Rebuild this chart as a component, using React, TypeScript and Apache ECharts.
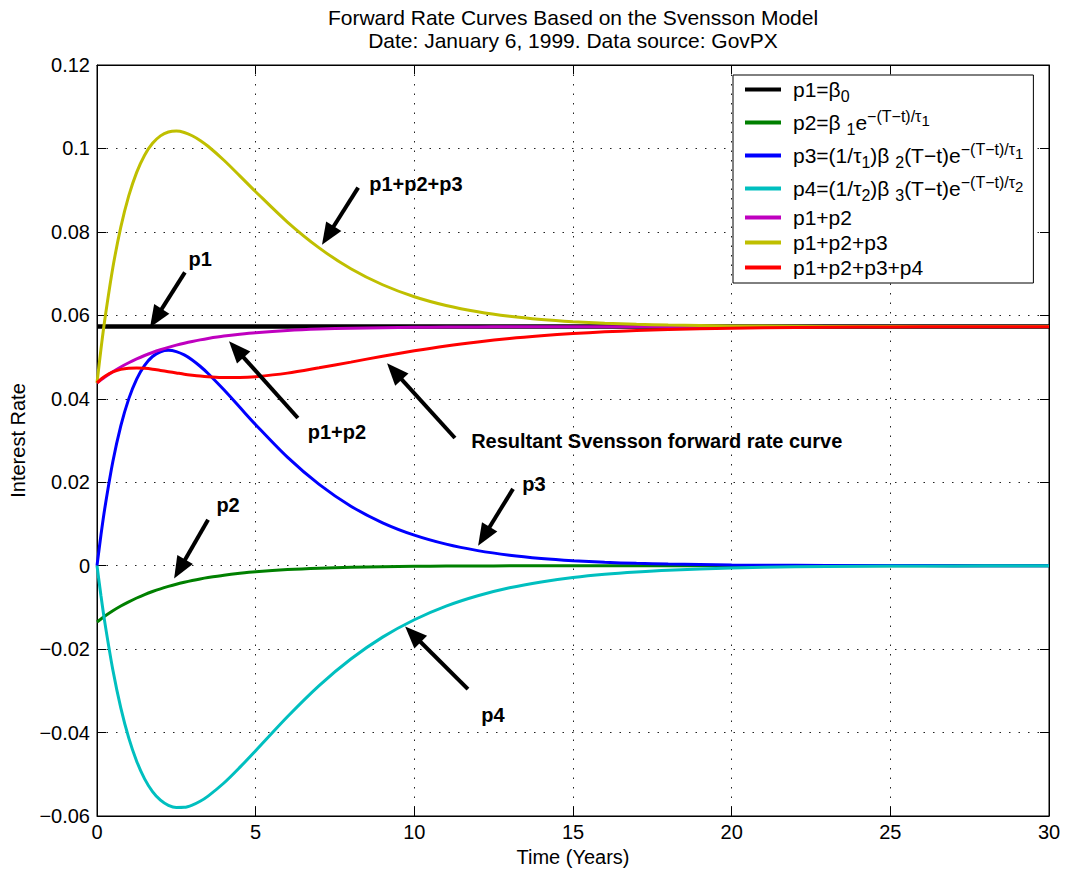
import React, { useEffect, useRef } from 'react';
import * as echarts from 'echarts';

// Time to maturity (years)
const T = [0, 0.125, 0.25, 0.5, 0.75, 1, 1.25, 1.5, 1.75, 2, 2.25, 2.5, 2.75, 3, 3.25, 3.5, 4, 4.5, 5, 6, 7, 8, 9, 10, 11, 12, 13, 14, 15, 16, 17, 18, 20, 22, 24, 26, 28, 30];

// p1 = beta0
const P1 = [0.0573, 0.0573, 0.0573, 0.0573, 0.0573, 0.0573, 0.0573, 0.0573, 0.0573, 0.0573, 0.0573, 0.0573, 0.0573, 0.0573, 0.0573, 0.0573, 0.0573, 0.0573, 0.0573, 0.0573, 0.0573, 0.0573, 0.0573, 0.0573, 0.0573, 0.0573, 0.0573, 0.0573, 0.0573, 0.0573, 0.0573, 0.0573, 0.0573, 0.0573, 0.0573, 0.0573, 0.0573, 0.0573];
// p2
const P2 = [-0.0135, -0.01277, -0.01208, -0.01081, -0.00967, -0.00866, -0.00775, -0.00693, -0.0062, -0.00555, -0.00497, -0.00444, -0.00398, -0.00356, -0.00318, -0.00285, -0.00228, -0.00183, -0.00146, -0.00094, -0.0006, -0.00039, -0.00025, -0.00016, -0.0001, -0.00007, -0.00004, -0.00003, -0.00002, -0.00001, -0.00001, 0, 0, 0, 0, 0, 0, 0];
// p3
const P3 = [0, 0.00737, 0.01395, 0.02496, 0.0335, 0.03998, 0.04472, 0.04802, 0.05013, 0.05126, 0.05161, 0.05131, 0.05051, 0.04931, 0.0478, 0.04607, 0.04215, 0.03796, 0.03379, 0.026, 0.01947, 0.01425, 0.01028, 0.00732, 0.00516, 0.00361, 0.0025, 0.00173, 0.00119, 0.00081, 0.00055, 0.00038, 0.00017, 0.00008, 0.00003, 0.00001, 0, 0];
// p4
const P4 = [0, -0.00722, -0.01377, -0.02502, -0.03409, -0.04128, -0.04687, -0.05109, -0.05414, -0.05621, -0.05744, -0.05797, -0.05793, -0.05739, -0.05647, -0.05523, -0.05209, -0.04834, -0.04434, -0.03621, -0.02874, -0.02237, -0.01713, -0.01296, -0.0097, -0.00721, -0.00531, -0.0039, -0.00284, -0.00206, -0.0015, -0.00108, -0.00055, -0.00028, -0.00014, -0.00007, -0.00004, -0.00002];
// p1+p2
const P12 = [0.0438, 0.04453, 0.04522, 0.04649, 0.04763, 0.04864, 0.04955, 0.05037, 0.0511, 0.05175, 0.05233, 0.05286, 0.05332, 0.05374, 0.05412, 0.05445, 0.05502, 0.05547, 0.05584, 0.05636, 0.0567, 0.05691, 0.05705, 0.05714, 0.0572, 0.05723, 0.05726, 0.05727, 0.05728, 0.05729, 0.05729, 0.0573, 0.0573, 0.0573, 0.0573, 0.0573, 0.0573, 0.0573];
// p1+p2+p3
const P123 = [0.0438, 0.0519, 0.05917, 0.07145, 0.08113, 0.08862, 0.09427, 0.09839, 0.10123, 0.10301, 0.10394, 0.10417, 0.10383, 0.10305, 0.10192, 0.10052, 0.09717, 0.09343, 0.08963, 0.08236, 0.07617, 0.07116, 0.06733, 0.06446, 0.06236, 0.06084, 0.05976, 0.059, 0.05847, 0.0581, 0.05784, 0.05768, 0.05747, 0.05738, 0.05733, 0.05731, 0.0573, 0.0573];
// p1+p2+p3+p4
const P1234 = [0.0438, 0.04468, 0.0454, 0.04643, 0.04704, 0.04734, 0.0474, 0.0473, 0.04709, 0.0468, 0.0465, 0.0462, 0.0459, 0.04566, 0.04545, 0.04529, 0.04508, 0.04509, 0.04529, 0.04615, 0.04743, 0.04879, 0.0502, 0.0515, 0.05266, 0.05363, 0.05445, 0.0551, 0.05563, 0.05604, 0.05634, 0.0566, 0.05692, 0.0571, 0.05719, 0.05724, 0.05726, 0.05728];

const SERIES_NAMES = ['p1', 'p2', 'p3', 'p4', 'p1+p2', 'p1+p2+p3', 'p1+p2+p3+p4'];
const SERIES_DATA = [P1, P2, P3, P4, P12, P123, P1234];
const SERIES_COLORS = ['#000000', '#008000', '#0000ff', '#00bfbf', '#bf00bf', '#bfbf00', '#ff0000'];
const SERIES_WIDTHS = [4.5, 3, 3, 3, 3, 3, 3];

const LEGEND_TEXT: Record<string, string> = {
  'p1': '{l|p1=β}{sub|0}',
  'p2': '{l|p2=β }{sub|1}{n|e}{sup|−(T−t)/τ}{supsub|1}',
  'p3': '{l|p3=(1/τ}{sub|1}{n|)β }{sub|2}{n|(T−t)e}{sup|−(T−t)/τ}{supsub|1}',
  'p4': '{l|p4=(1/τ}{sub|2}{n|)β }{sub|3}{n|(T−t)e}{sup|−(T−t)/τ}{supsub|2}',
  'p1+p2': '{l|p1+p2}',
  'p1+p2+p3': '{l|p1+p2+p3}',
  'p1+p2+p3+p4': '{l|p1+p2+p3+p4}',
};

const X_TICKS = { min: 0, max: 30, interval: 5 };
const Y_TICKS = { min: -0.06, max: 0.12, interval: 0.02 };

// annotation arrows, anchored in data coordinates
const ARROWS = [
  { tail: [2.77, 0.0703], tip: [1.67, 0.0571] },
  { tail: [8.23, 0.0906], tip: [7.09, 0.0769] },
  { tail: [6.33, 0.0354], tip: [4.16, 0.0538] },
  { tail: [11.28, 0.0306], tip: [9.14, 0.0485] },
  { tail: [13.11, 0.0184], tip: [12.01, 0.0048] },
  { tail: [3.5, 0.011], tip: [2.43, -0.0031] },
  { tail: [11.69, -0.0296], tip: [9.71, -0.0146] },
];
const LABELS = [
  { text: 'p1', at: [3.25, 0.0736], align: 'center' },
  { text: 'p1+p2+p3', at: [10.05, 0.0915], align: 'center' },
  { text: 'p1+p2', at: [7.56, 0.032], align: 'center' },
  { text: 'Resultant Svensson forward rate curve', at: [11.79, 0.0299], align: 'left' },
  { text: 'p3', at: [13.77, 0.0196], align: 'center' },
  { text: 'p2', at: [4.13, 0.0146], align: 'center' },
  { text: 'p4', at: [12.48, -0.0358], align: 'center' },
];

const FONT = 'Liberation Sans, Arial, Helvetica, sans-serif';

function fmtY(v: number) {
  if (Math.abs(v) < 1e-9) return '0';
  const s = String(parseFloat(Math.abs(v).toFixed(2)));
  return (v < 0 ? '−' : '') + s;
}

export default function App() {
  const ref = useRef<HTMLDivElement>(null);
  useEffect(() => {
    if (!ref.current) return;
    const chart = echarts.init(ref.current, undefined, { renderer: 'svg' });
    const baseAxisLine = { show: true, onZero: false, lineStyle: { color: '#000', width: 1 } };
    const option: any = {
      animation: false,
      backgroundColor: '#fff',
      title: {
        text: 'Forward Rate Curves Based on the Svensson Model\nDate: January 6, 1999. Data source: GovPX',
        left: 573,
        top: 6,
        padding: 0,
        textAlign: 'center',
        textStyle: { fontFamily: FONT, fontSize: 21, fontWeight: 'normal', color: '#000', lineHeight: 23 },
      },
      grid: { left: 97, top: 65, right: 17, bottom: 57, show: true, borderColor: '#000', borderWidth: 1, containLabel: false },
      legend: {
        orient: 'vertical',
        left: 733,
        top: 75,
        padding: [4, 10, 5, 12],
        itemGap: 4,
        itemWidth: 36,
        itemHeight: 4,
        icon: 'rect',
        backgroundColor: '#fff',
        borderColor: '#000',
        borderWidth: 1,
        borderRadius: 0,
        data: SERIES_NAMES,
        formatter: (name: string) => LEGEND_TEXT[name],
        textStyle: {
          fontFamily: FONT,
          color: '#000',
          rich: {
            l: { fontFamily: FONT, fontSize: 21, lineHeight: 29, padding: [0, 0, 0, 7], color: '#000' },
            n: { fontFamily: FONT, fontSize: 21, lineHeight: 29, color: '#000' },
            sub: { fontFamily: FONT, fontSize: 16, lineHeight: 14, verticalAlign: 'bottom', color: '#000' },
            sup: { fontFamily: FONT, fontSize: 16, lineHeight: 8, verticalAlign: 'top', color: '#000' },
            supsub: { fontFamily: FONT, fontSize: 15, lineHeight: 16, verticalAlign: 'middle', padding: [0, 0, 4, 0], color: '#000' },
          },
        },
      },
      xAxis: [
        {
          type: 'value', ...X_TICKS,
          name: 'Time (Years)', nameLocation: 'middle', nameGap: 31,
          nameTextStyle: { fontFamily: FONT, fontSize: 20, color: '#000' },
          axisLine: baseAxisLine,
          axisTick: { show: true, inside: true, length: 9, lineStyle: { color: '#000' } },
          axisLabel: { fontFamily: FONT, fontSize: 20, color: '#000', margin: 6 },
          splitLine: { show: true, lineStyle: { color: '#222', width: 1, type: [1.5, 8] } },
        },
        {
          type: 'value', ...X_TICKS, position: 'top',
          axisLine: baseAxisLine,
          axisTick: { show: true, inside: true, length: 9, lineStyle: { color: '#000' } },
          axisLabel: { show: false },
          splitLine: { show: false },
        },
      ],
      yAxis: [
        {
          type: 'value', ...Y_TICKS,
          name: 'Interest Rate', nameLocation: 'middle', nameGap: 61,
          nameTextStyle: { fontFamily: FONT, fontSize: 20, color: '#000' },
          axisLine: baseAxisLine,
          axisTick: { show: true, inside: true, length: 9, lineStyle: { color: '#000' } },
          axisLabel: { fontFamily: FONT, fontSize: 20, color: '#000', margin: 7, formatter: fmtY },
          splitLine: { show: true, lineStyle: { color: '#222', width: 1, type: [1.5, 8] } },
        },
        {
          type: 'value', ...Y_TICKS, position: 'right',
          axisLine: baseAxisLine,
          axisTick: { show: true, inside: true, length: 9, lineStyle: { color: '#000' } },
          axisLabel: { show: false },
          splitLine: { show: false },
        },
      ],
      series: SERIES_NAMES.map((name, i) => ({
        name,
        type: 'line',
        xAxisIndex: 0,
        yAxisIndex: 0,
        showSymbol: false,
        smooth: 0.3,
        color: SERIES_COLORS[i],
        lineStyle: { color: SERIES_COLORS[i], width: SERIES_WIDTHS[i] },
        data: T.map((t, k) => [t, SERIES_DATA[i][k]]),
        z: 2 + i * 0.01,
      })),
    };
    chart.setOption(option);

    const els: any[] = [];
    ARROWS.forEach((a) => {
      const p1 = chart.convertToPixel({ gridIndex: 0 }, a.tail) as number[];
      const p2 = chart.convertToPixel({ gridIndex: 0 }, a.tip) as number[];
      const dx = p2[0] - p1[0];
      const dy = p2[1] - p1[1];
      const len = Math.hypot(dx, dy);
      const ux = dx / len;
      const uy = dy / len;
      const headLen = 22;
      const headW = 9;
      const bx = p2[0] - ux * headLen;
      const by = p2[1] - uy * headLen;
      els.push({
        type: 'line', z: 20,
        shape: { x1: p1[0], y1: p1[1], x2: bx + ux * 3, y2: by + uy * 3 },
        style: { stroke: '#000', lineWidth: 4 },
      });
      els.push({
        type: 'polygon', z: 20,
        shape: { points: [[p2[0], p2[1]], [bx - uy * headW, by + ux * headW], [bx + uy * headW, by - ux * headW]] },
        style: { fill: '#000' },
      });
    });
    LABELS.forEach((l) => {
      const p = chart.convertToPixel({ gridIndex: 0 }, l.at) as number[];
      els.push({
        type: 'text', z: 20, x: p[0], y: p[1],
        style: {
          text: l.text, fill: '#000', fontFamily: FONT, fontSize: 20, fontWeight: 'bold',
          textAlign: l.align, textVerticalAlign: 'middle', align: l.align, verticalAlign: 'middle',
        },
      });
    });
    chart.setOption({ graphic: els });

    return () => chart.dispose();
  }, []);
  return <div ref={ref} style={{ position: 'absolute', left: 0, top: 0, width: 1066, height: 873 }} />;
}
